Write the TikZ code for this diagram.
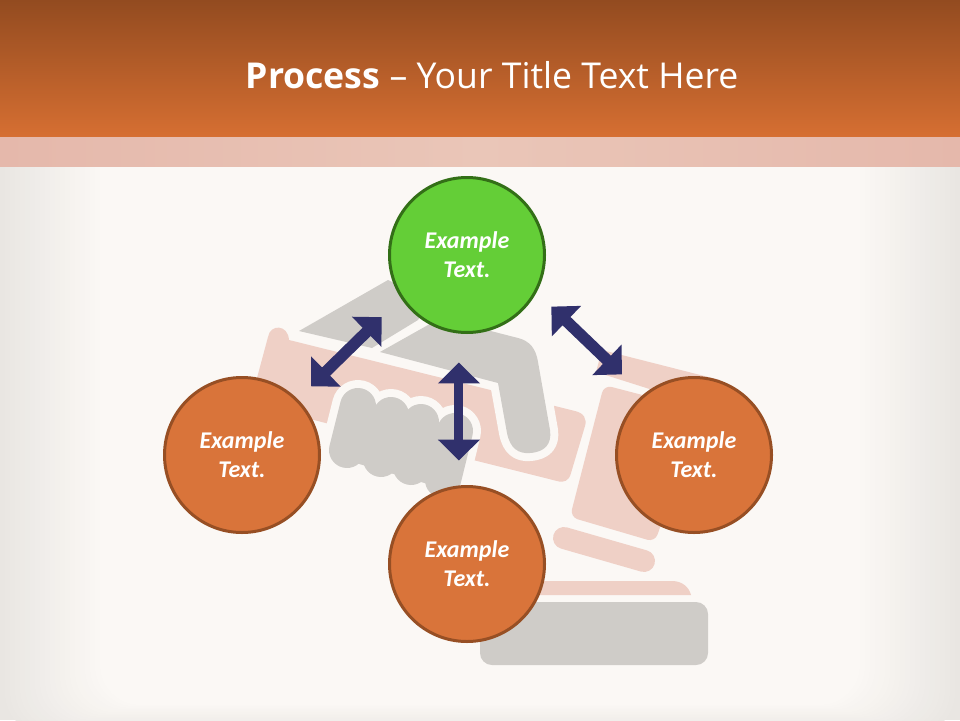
\documentclass[tikz,border=0pt]{standalone}
\usepackage{fontspec}
\usepackage{tikz}
\usetikzlibrary{arrows.meta}
\newfontfamily\titlefont{Open Sans}
\newfontfamily\labelfont{Carlito}
\definecolor{pagecol}{HTML}{FBF8F5}
\definecolor{edgecol}{HTML}{E9E6E2}
\definecolor{pinkcol}{HTML}{EFD0C6}
\definecolor{greycol}{HTML}{CFCCC8}
\definecolor{orangecol}{HTML}{D9743A}
\definecolor{orangeline}{HTML}{974F24}
\definecolor{greencol}{HTML}{64CE37}
\definecolor{greenline}{HTML}{336F17}
\definecolor{navycol}{HTML}{30306C}
\definecolor{headtop}{HTML}{934B20}
\definecolor{headbottom}{HTML}{D66F32}
\definecolor{bandmid}{HTML}{EAC6B8}
\definecolor{bandend}{HTML}{E5B8AB}
\tikzset{
	bubble/.style={draw=orangeline,fill=orangecol,line width=3pt,shape=circle,minimum size=155pt,inner sep=0pt,outer sep=0pt,align=center,text=white,font=\labelfont\bfseries\itshape\fontsize{24}{29}\selectfont},
	topbubble/.style={bubble,draw=greenline,fill=greencol},
	dblarrow/.style={draw=navycol,line width=9pt,{Triangle[length=21pt,width=41pt]}-{Triangle[length=21pt,width=41pt]}},
	diagarrow/.style={dblarrow,line width=11.5pt},
	halo/.style={preaction={draw=pagecol,line width=16pt,line join=round},fill=greycol},
	finger/.style={line cap=round,line width=36pt}
}
\begin{document}
\begin{tikzpicture}[x=1pt,y=-1pt]
		\useasboundingbox (0,0) rectangle (960,720);
		\fill[edgecol] (0,0) rectangle (960,720);
		\foreach \i in {1,...,20} {
			\pgfmathsetmacro{\mixval}{\i*5}
			\fill[pagecol!\mixval!edgecol,rounded corners=40pt] (\i*5,100) rectangle (960-\i*5,735-\i*1.5);
		}
		\shade[top color=headtop,bottom color=headbottom] (0,0) rectangle (960,137);
		\shade[left color=bandend,right color=bandend,middle color=bandmid] (0,137) rectangle (960,166);
		\fill[pinkcol] (268,337) .. controls (270,324) and (288,324) .. (289,340) -- (575,411) .. controls (584,413) and (587,419) .. (585,426) -- (571,473) .. controls (569,481) and (564,483) .. (557,481) -- (250,404) -- cycle;
		\fill[pinkcol] (602,350) -- (720,380) -- (700,405) -- (596,372) -- cycle;
		\fill[pinkcol,rounded corners=8pt] (604,385) -- (700,410) -- (655,542) -- (570,517) -- cycle;
		\draw[pinkcol,line cap=round,line width=22pt] (564,538) -- (644,561);
		\fill[pinkcol] (520,595) -- (520,581) -- (672,581) .. controls (682,581) and (689,587) .. (691,595) -- cycle;
		\fill[greycol,rounded corners=12pt] (480,602) rectangle (708,665);
		\path[halo] (380,352) -- (498,383) -- (507,433) .. controls (510,448) and (518,454) .. (530,453) .. controls (545,452) and (552,444) .. (550,430) -- (538,362) .. controls (536,349) and (530,341) .. (518,338) -- (440,318) -- (428,325) -- cycle;
		\fill[greycol] (299,331) -- (388,280) -- (430,300) -- (418,320) -- (372,348) -- cycle;
		\foreach \xa/\ya/\xb/\yb in {358/406/347/450,391/415/381/459,421/422/411/467,455/431/443/480} {
			\draw[pagecol,line cap=round,line width=52pt] (\xa,\ya) -- (\xb,\yb);
		}
		\foreach \xa/\ya/\xb/\yb in {358/406/347/450,391/415/381/459,421/422/411/467,455/431/443/480} {
			\draw[greycol,finger] (\xa,\ya) -- (\xb,\yb);
		}
		\draw[greycol,line width=20pt] (347,450) -- (443,478);
		\draw (467,255) node (ntop) [topbubble] {Example\\Text.};
		\draw (242,455) node (nleft) [bubble] {Example\\Text.};
		\draw (694,455) node (nright) [bubble] {Example\\Text.};
		\draw (467,564) node (nbottom) [bubble] {Example\\Text.};
		\draw (492,88) node (title) [anchor=base,text=white,font=\titlefont\fontsize{35.6}{42}\selectfont] {\textbf{Process} – Your Title Text Here};
		\draw[diagarrow,shorten <=28.5pt,shorten >=19.9pt] (ntop.213.2) -- (nleft.45.8);
		\draw[diagarrow,shorten <=22pt,shorten >=30.7pt] (ntop.332.4) -- (nright.130.5);
		\draw[dblarrow,shorten <=30.4pt,shorten >=26.4pt] (ntop.264) -- (nbottom.96);
\end{tikzpicture}
\end{document}
